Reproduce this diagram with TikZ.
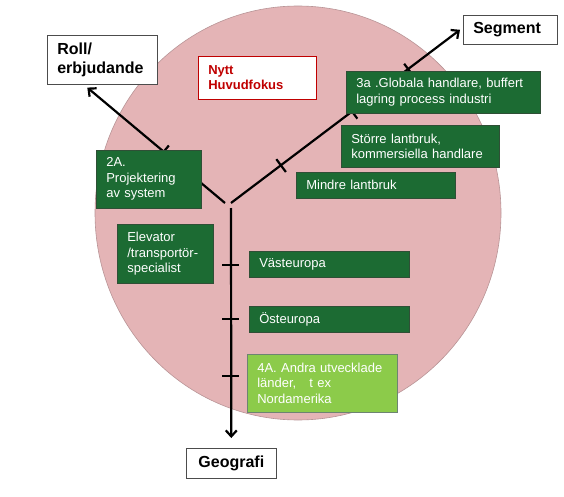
\documentclass[tikz,border=0pt]{standalone}
\usepackage{fontspec}
\setmainfont{Liberation Sans}
\usetikzlibrary{arrows.meta, calc}
\definecolor{fokuspink}{HTML}{E4B4B6}
\definecolor{fokusedge}{HTML}{B89496}
\definecolor{mkgreen}{HTML}{1C6B33}
\definecolor{mkgreenedge}{HTML}{2F4F36}
\definecolor{mklight}{HTML}{8CCB4A}
\definecolor{mkred}{HTML}{C00000}

\begin{document}
\begin{tikzpicture}[x=1pt, y=-1pt,
    gbox/.style={draw=mkgreenedge, line width=0.6pt, fill=mkgreen, text=white,
                 anchor=north west, align=left, inner xsep=10pt, inner ysep=2pt,
                 font=\fontsize{13}{15.5}\selectfont},
    lbox/.style={gbox, fill=mklight, draw=mkgreenedge!70},
    axbox/.style={draw=black!70, line width=0.6pt, fill=white,
                  anchor=north west, align=left, inner xsep=10pt, inner ysep=2pt,
                  font=\fontsize{16}{19}\selectfont\bfseries},
    axis/.style={line width=2.2pt, -{Straight Barb[length=6pt, width=11pt]}},
    tickmark/.style={line width=2.2pt},
  ]
  \useasboundingbox (0,0) rectangle (564,497);

  % focus area
  \fill[fokuspink, draw=fokusedge, line width=0.6pt] (298,213) ellipse [x radius=203, y radius=207];

  % axis labels
  \node[axbox, text width=90pt, minimum height=49pt] (roll) at (47,35) {Roll/\\erbjudande};
  \node[axbox, text width=74pt, minimum height=29pt] (seg) at (463,15) {Segment};
  \node[axbox, text width=70pt, minimum height=30pt, align=center] (geo) at (186,448) {Geografi};
  \node[axbox, draw=mkred, text=mkred, text width=98pt, minimum height=43pt,
        font=\fontsize{13}{15}\selectfont\bfseries] (nytt) at (198,56) {Nytt\\Huvudfokus};

  % hub of the three axes
  \coordinate (hubL) at (225,203);
  \coordinate (hubR) at (231,203);
  \coordinate (hubV) at (231,208);
  \coordinate (tipR) at ([xshift=-15pt, yshift=-3pt]roll.south);

  \draw[axis] (hubL) -- (tipR);
  \draw[axis] (hubR) -- ([xshift=-3pt]seg.west);
  \draw[axis, shorten >=10pt] (hubV) -- (geo.north);

  % ticks
  \foreach \f in {0.445} {
    \coordinate (p) at ($(hubL)!\f!(tipR)$);
    \draw[tickmark] ($(p)!8pt!90:(tipR)$) -- ($(p)!8pt!-90:(tipR)$);
  }
  \foreach \f in {0.216, 0.524, 0.767} {
    \coordinate (p) at ($(hubR)!\f!(seg.west)$);
    \draw[tickmark] ($(p)!8pt!90:(seg.west)$) -- ($(p)!8pt!-90:(seg.west)$);
  }
  \foreach \y in {265, 319, 376}
    \draw[tickmark] (222,\y) -- (239,\y);

  % positions along the axes
  \node[gbox, text width=85pt, minimum height=58pt] (proj) at (96,150) {2A.\\Projektering\\av system};
  \node[gbox, text width=76pt, minimum height=59pt] (elev) at (117,224) {Elevator\\/transportör-\\specialist};
  \node[gbox, text width=140pt, minimum height=26pt] (vast) at (249,251) {Västeuropa};
  \node[gbox, text width=140pt, minimum height=26pt] (ost) at (249,306) {Östeuropa};
  \node[lbox, text width=130pt, minimum height=58pt] (andra) at (247,354) {4A. Andra utvecklade\\länder,\ \ \ t ex\\Nordamerika};
  \node[gbox, text width=174pt, minimum height=42pt] (glob) at (346,71) {3a .Globala handlare, buffert\\lagring process industri};
  \node[gbox, text width=138pt, minimum height=42pt] (stor) at (341,125) {Större lantbruk,\\kommersiella handlare};
  \node[gbox, text width=139pt, minimum height=26pt] (mindre) at (296,172) {Mindre lantbruk};
\end{tikzpicture}
\end{document}
